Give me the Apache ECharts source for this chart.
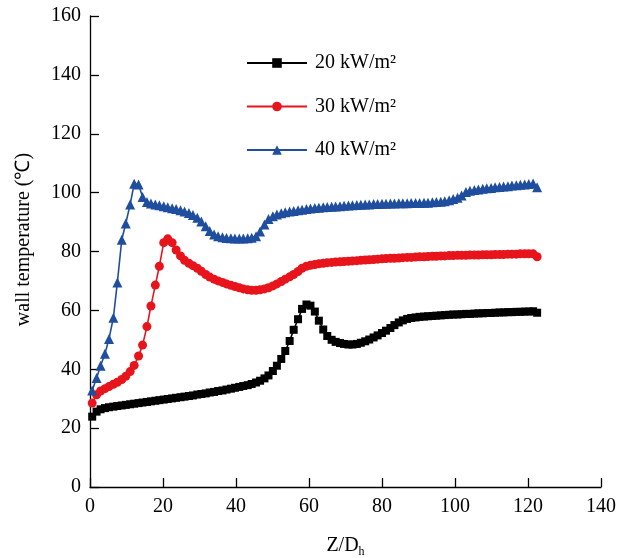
<!DOCTYPE html>
<html>
<head>
<meta charset="utf-8">
<script src="https://cdn.jsdelivr.net/npm/echarts@6/dist/echarts.min.js"></script>
<style>
html,body{margin:0;padding:0;background:#fff;}
#chart{width:628px;height:558px;}
</style>
</head>
<body>
<div id="chart"></div>
<script>
const zD = [
  0.6,1.8,2.9,4.1,5.2,6.4,7.5,8.7,9.8,11.0,
  12.1,13.3,14.4,15.6,16.7,17.9,19.0,20.2,21.3,22.5,
  23.6,24.8,25.9,27.1,28.2,29.4,30.5,31.7,32.8,34.0,
  35.1,36.3,37.4,38.6,39.7,40.9,42.0,43.2,44.3,45.5,
  46.6,47.8,48.9,50.1,51.2,52.4,53.5,54.7,55.8,57.0,
  58.1,59.3,60.4,61.6,62.7,63.9,65.0,66.2,67.3,68.5,
  69.6,70.8,71.9,73.1,74.2,75.4,76.5,77.7,78.8,80.0,
  81.1,82.3,83.4,84.6,85.7,86.9,88.0,89.2,90.3,91.5,
  92.6,93.8,94.9,96.1,97.2,98.4,99.5,100.7,101.8,103.0,
  104.1,105.3,106.4,107.6,108.7,109.9,111.0,112.2,113.3,114.5,
  115.6,116.8,117.9,119.1,120.2,121.4,122.5
];
const t20 = [
  23.9,25.6,26.4,26.8,27.1,27.3,27.5,27.7,27.9,28.1,
  28.3,28.5,28.7,28.9,29.1,29.3,29.5,29.7,29.9,30.1,
  30.3,30.5,30.7,30.9,31.1,31.4,31.6,31.8,32.1,32.3,
  32.6,32.8,33.1,33.4,33.7,34.0,34.3,34.6,35.0,35.5,
  36.1,36.9,37.9,39.4,41.2,43.5,46.2,49.6,53.4,57.0,
  60.5,62.0,61.6,59.6,56.5,53.5,51.3,50.0,49.3,48.9,
  48.6,48.4,48.4,48.6,49.0,49.5,50.1,50.8,51.5,52.3,
  53.1,54.0,55.0,55.9,56.6,57.1,57.4,57.6,57.8,57.9,
  58.0,58.1,58.2,58.3,58.4,58.5,58.6,58.6,58.7,58.8,
  58.8,58.9,59.0,59.0,59.1,59.1,59.2,59.3,59.3,59.4,
  59.4,59.5,59.5,59.6,59.6,59.7,59.2
];
const t30 = [
  28.5,31.3,32.6,33.4,34.1,34.9,35.6,36.5,37.6,39.2,
  41.3,44.5,48.2,54.5,61.5,68.6,75.0,83.0,84.3,83.0,
  80.5,78.5,77.0,76.0,75.2,74.3,73.3,72.2,71.3,70.6,
  70.0,69.5,69.0,68.5,68.1,67.7,67.3,67.0,66.8,66.8,
  67.0,67.3,67.7,68.3,69.0,69.8,70.6,71.4,72.2,73.2,
  74.3,75.0,75.3,75.6,75.8,76.0,76.2,76.3,76.4,76.5,
  76.6,76.7,76.8,76.9,77.0,77.1,77.2,77.3,77.4,77.5,
  77.6,77.7,77.7,77.8,77.9,78.0,78.0,78.1,78.2,78.2,
  78.3,78.4,78.4,78.5,78.5,78.6,78.6,78.7,78.7,78.7,
  78.8,78.8,78.8,78.9,78.9,78.9,79.0,79.0,79.0,79.1,
  79.1,79.1,79.2,79.2,79.2,79.2,78.2
];
const t40 = [
  32.8,37.0,41.2,45.3,50.3,57.5,69.5,84.0,89.5,96.0,
  103.0,102.8,98.5,96.8,96.3,96.0,95.7,95.4,95.0,94.7,
  94.4,94.0,93.6,93.1,92.4,91.5,90.2,88.6,87.0,85.8,
  85.2,84.8,84.6,84.5,84.4,84.4,84.4,84.5,84.7,85.2,
  86.8,89.2,91.0,92.0,92.6,93.0,93.3,93.6,93.8,94.0,
  94.2,94.4,94.6,94.8,94.9,95.0,95.1,95.2,95.3,95.4,
  95.5,95.6,95.7,95.8,95.9,96.0,96.0,96.1,96.1,96.2,
  96.2,96.3,96.3,96.4,96.4,96.4,96.5,96.5,96.5,96.6,
  96.6,96.7,96.8,96.9,97.1,97.4,97.8,98.3,99.0,100.2,
  100.6,100.9,101.1,101.3,101.5,101.6,101.8,101.9,102.1,102.2,
  102.4,102.5,102.7,102.8,102.9,103.1,101.8
];
const seriesNames = ['20 kW/m²', '30 kW/m²', '40 kW/m²'];
const xLimits = [0, 140, 20];
const yLimits = [0, 160, 20];

const FONT = 'Liberation Serif';
const FS = 20;
const chart = echarts.init(document.getElementById('chart'), null, {renderer: 'canvas'});
const pairs = arr => zD.map((z, i) => [z, arr[i]]);

const mkSeries = (name, arr, color, symbol, size) => ({
  name: name,
  type: 'line',
  data: pairs(arr),
  symbol: symbol,
  symbolSize: size,
  showAllSymbol: true,
  lineStyle: {color: color, width: 1.6},
  itemStyle: {color: color, borderWidth: 0},
  emphasis: {disabled: true},
  animation: false
});

chart.setOption({
  backgroundColor: '#fff',
  animation: false,
  grid: {left: 90, right: 27, top: 16, bottom: 71, containLabel: false, outerBoundsMode: 'none'},
  legend: {
    orient: 'vertical',
    left: 246,
    top: 53,
    padding: 0,
    itemWidth: 60,
    itemHeight: 12,
    itemGap: 23.5,
    textStyle: {fontFamily: FONT, fontSize: FS, color: '#000', padding: [0, 0, 0, 3]},
    data: seriesNames
  },
  xAxis: {
    type: 'value',
    min: xLimits[0], max: xLimits[1], interval: xLimits[2],
    name: 'Z/D{s|h}',
    nameLocation: 'middle',
    nameGap: 47,
    nameTextStyle: {
      fontFamily: FONT, fontSize: FS, color: '#000',
      rich: {s: {fontFamily: FONT, fontSize: 12, color: '#000', verticalAlign: 'bottom', padding: [12, 0, 0, 0]}}
    },
    axisLine: {show: true, lineStyle: {color: '#000', width: 1.3}},
    axisTick: {show: true, inside: true, length: 9, lineStyle: {color: '#000', width: 1.3}},
    axisLabel: {fontFamily: FONT, fontSize: FS, color: '#000', margin: 10},
    splitLine: {show: false}
  },
  yAxis: {
    type: 'value',
    min: yLimits[0], max: yLimits[1], interval: yLimits[2],
    name: 'wall temperature (℃)',
    nameLocation: 'middle',
    nameGap: 56,
    nameTextStyle: {fontFamily: FONT, fontSize: FS, color: '#000', padding: [0, 0, 0, 24]},
    axisLine: {show: true, lineStyle: {color: '#000', width: 1.3}},
    axisTick: {show: true, inside: true, length: 9, lineStyle: {color: '#000', width: 1.3}},
    axisLabel: {fontFamily: FONT, fontSize: FS, color: '#000', margin: 9},
    splitLine: {show: false}
  },
  series: [
    mkSeries(seriesNames[0], t20, '#000000', 'rect', 8),
    mkSeries(seriesNames[1], t30, '#e8141c', 'circle', 9),
    mkSeries(seriesNames[2], t40, '#1f4e9e', 'triangle', 10)
  ]
});
</script>
</body>
</html>
